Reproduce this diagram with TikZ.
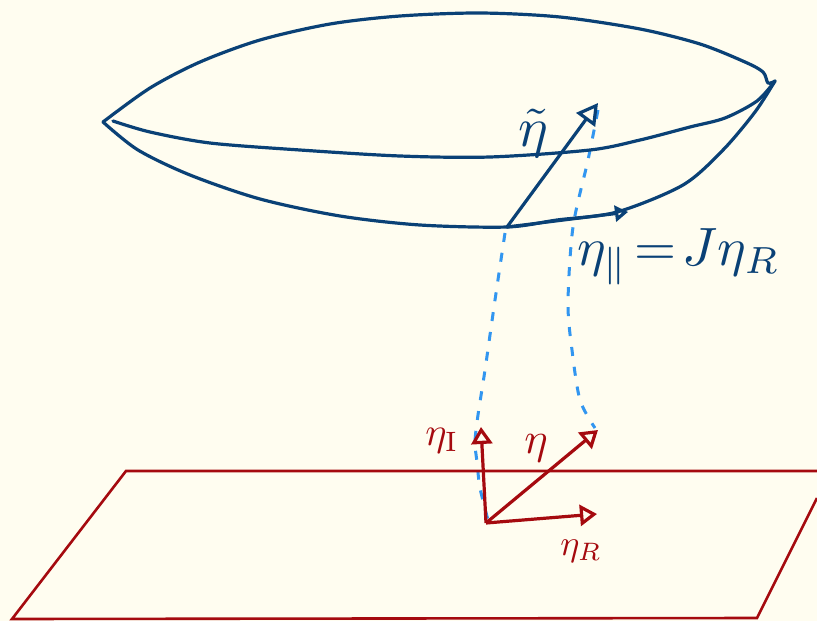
\documentclass[tikz,border=0pt]{standalone}
\usepackage{amsmath,amssymb}
\usetikzlibrary{arrows.meta,positioning}
\definecolor{paper}{RGB}{255,253,240}
\definecolor{inkblue}{RGB}{10,65,118}
\definecolor{inkred}{RGB}{165,10,15}
\definecolor{inklight}{RGB}{50,150,240}
\begin{document}
\begin{tikzpicture}[
    x=1pt, y=-1pt,
    surface/.style={inkblue, line width=3.2pt, line cap=round, line join=round},
    plane/.style={inkred, line width=2.6pt},
    lift/.style={inklight, line width=3pt, dash pattern=on 9pt off 11pt},
    bluevec/.style={surface, -{Triangle[open, length=21pt, width=23pt, line width=3.2pt]}},
    redvec/.style={inkred, line width=3.2pt, line join=round, -{Triangle[open, length=17pt, width=21pt, line width=3.2pt]}},
    bluelabel/.style={inkblue, inner sep=0pt, scale=#1, transform shape},
    redlabel/.style={inkred, inner sep=0pt, scale=#1, transform shape}
]
\useasboundingbox[fill=paper] (0,0) rectangle (817,621);
% fixed points
\coordinate (leftend) at (103,122);
\coordinate (rightend) at (775,81);
\coordinate (foot) at (507,227);
\coordinate (tiptilde) at (598,103);
\coordinate (tippar) at (628,212);
\coordinate (origin) at (486,523);
\coordinate (tipI) at (481,427);
\coordinate (tipeta) at (598,430);
\coordinate (tipR) at (597,514);
\coordinate (planeA) at (126,471);
\coordinate (planeB) at (817,471);
\coordinate (planeC) at (12,619);
\coordinate (planeD) at (757,618);
\coordinate (planeE) at (817,498);
% dashed lifts
\draw[lift] plot[smooth] coordinates {(505,233) (495,300) (485,370) (478,415) (475,442) (477,462) (480,488) (488,520)};
\draw[lift] plot[smooth] coordinates {(598,110) (588,160) (573,227) (568,303) (572,350) (580,400) (595,428)};
% the surface
\draw[surface] plot[smooth] coordinates {(leftend) (150,88) (200,62) (260,40) (330,24) (400,16) (480,13) (560,17) (640,29) (700,44) (745,62) (763,72) (768,83) (rightend)};
\draw[surface] plot[smooth] coordinates {(113,121) (150,132) (210,143) (300,150) (400,156) (490,157) (590,150) (640,140) (690,127) (725,118) (757,101) (rightend)};
\draw[surface] plot[smooth] coordinates {(leftend) (138,150) (190,175) (260,199) (340,216) (420,225) (foot) (557,220) (617,212) (683,185) (723,150) (755,112) (rightend)};
% blue vectors
\draw[bluevec] (foot) -- (tiptilde);
\draw[surface, -{Triangle[open, length=13pt, width=16pt, line width=3.2pt]}] (foot) -- (tippar);
% plane
\draw[plane] (planeB) -- (planeA) -- (planeC) -- (planeD) -- (planeE);
% red vectors
\draw[redvec] (origin) -- (tipI);
\draw[redvec] (origin) -- (tipeta);
\draw[redvec] (origin) -- (tipR);
% labels
\node[bluelabel=5.6] (etatilde) at (533,133) {$\tilde{\eta}$};
\node[bluelabel=5.4, anchor=west] (etapar) at (576,257) {$\eta_{\parallel}\!=\!J\eta_{R}$};
\node[redlabel=4] (etaI) at (442,441) {$\eta_{\mathrm{I}}$};
\node[redlabel=4.4] (etamid) at (536,448) {$\eta$};
\node[redlabel=3.6] (etaR) at (581,551) {$\eta_{R}$};
\end{tikzpicture}
\end{document}
